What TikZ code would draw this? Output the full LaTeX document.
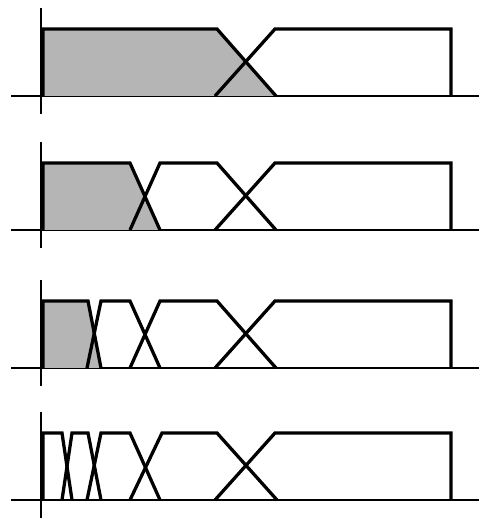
\documentclass[tikz,border=0pt]{standalone}
\begin{document}
\begin{tikzpicture}[x=0.03cm,y=0.03cm,
    mf/.style={line width=2.8pt,line join=miter},
    ax/.style={line width=1.9pt},
    shade/.style={fill=gray!58}]
    \useasboundingbox (0,0) rectangle (481,519);
    % axes of the four panels
    \foreach \b in {423,289,151,19} {
        \draw[ax] (11,\b) -- (479,\b);
        \draw[ax] (41,\b-18) -- (41,\b+88);
    }
    % panel 1
    \begin{scope}[shift={(0,423)}]
        \fill[shade] (43,0) -- (43,67) -- (217,67) -- (276,0) -- cycle;
        \draw[mf] (43,0) -- (43,67) -- (217,67) -- (276,0);
        \draw[mf] (215,0) -- (275,67) -- (451,67) -- (451,0);
    \end{scope}
    % panel 2
    \begin{scope}[shift={(0,289)}]
        \fill[shade] (43,0) -- (43,67) -- (130,67) -- (160,0) -- cycle;
        \draw[mf] (43,0) -- (43,67) -- (130,67) -- (160,0);
        \draw[mf] (130,0) -- (160,67) -- (217,67) -- (276,0);
        \draw[mf] (215,0) -- (275,67) -- (451,67) -- (451,0);
    \end{scope}
    % panel 3
    \begin{scope}[shift={(0,151)}]
        \fill[shade] (43,0) -- (43,67) -- (88,67) -- (101,0) -- cycle;
        \draw[mf] (43,0) -- (43,67) -- (88,67) -- (101,0);
        \draw[mf] (87,0) -- (101,67) -- (130,67) -- (160,0);
        \draw[mf] (130,0) -- (160,67) -- (217,67) -- (276,0);
        \draw[mf] (215,0) -- (275,67) -- (451,67) -- (451,0);
    \end{scope}
    % panel 4
    \begin{scope}[shift={(0,19)}]
        \draw[mf] (43,0) -- (43,67) -- (62,67) -- (72,0);
        \draw[mf] (62,0) -- (72,67) -- (88,67) -- (101,0);
        \draw[mf] (87,0) -- (101,67) -- (130,67) -- (160,0);
        \draw[mf] (130,0) -- (162,67) -- (217,67) -- (277,0);
        \draw[mf] (215,0) -- (275,67) -- (451,67) -- (451,0);
    \end{scope}
\end{tikzpicture}
\end{document}
